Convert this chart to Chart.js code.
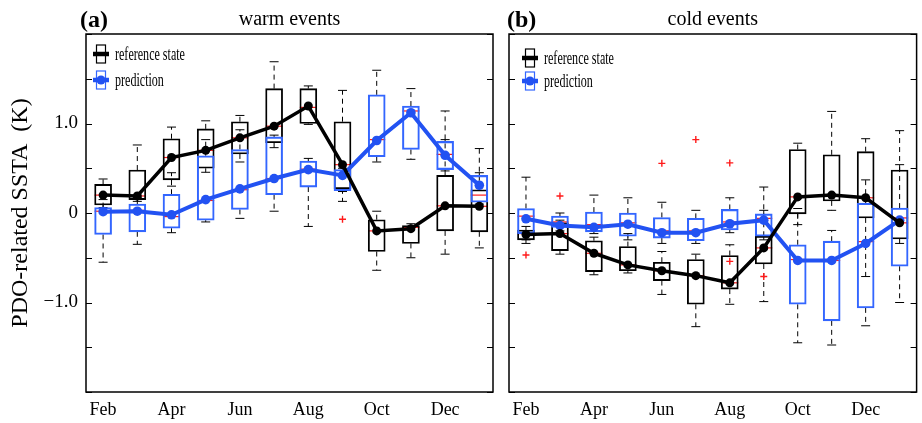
<!DOCTYPE html>
<html>
<head>
<meta charset="utf-8">
<script src="https://cdn.jsdelivr.net/npm/chart.js@4.4.1/dist/chart.umd.min.js"></script>
<style>
  html, body { margin: 0; padding: 0; background: #fff; }
  #wrap { position: relative; width: 922px; height: 423px; overflow: hidden; }
  .panel { position: absolute; top: 0; height: 423px; }
  #panelA { left: 0; width: 500px; }
  #panelB { left: 500px; width: 422px; }
</style>
</head>
<body>
<div id="wrap">
  <div class="panel" id="panelA"><canvas id="chartA"></canvas></div>
  <div class="panel" id="panelB"><canvas id="chartB"></canvas></div>
</div>
<script>
// Months Feb..Jan, only every second one gets a label on the x axis.
const MONTHS = ["Feb", "Mar", "Apr", "May", "Jun", "Jul", "Aug", "Sep", "Oct", "Nov", "Dec", "Jan"];
const MONTH_TICKS = ["Feb", "", "Apr", "", "Jun", "", "Aug", "", "Oct", "", "Dec", ""];
const Y_TICKS = [-2, -1.5, -1, -0.5, 0, 0.5, 1, 1.5, 2];
const Y_TICK_VALUES = [1, 0, -1];
const Y_TICK_TEXT = ["1.0", "0", "\u22121.0"];

// (a) warm events — reference state boxes
const WARM_REF_LO = [0.06, 0.13, 0.30, 0.455, 0.57, 0.73, 0.99, 0.13, -0.64, -0.50, -0.46, -0.39];
const WARM_REF_Q1 = [0.09, 0.15, 0.37, 0.50, 0.66, 0.785, 1.00, 0.27, -0.43, -0.34, -0.20, -0.21];
const WARM_REF_MED = [0.20, 0.19, 0.62, 0.70, 0.84, 0.97, 1.18, 0.54, -0.20, -0.16, 0.08, 0.075];
const WARM_REF_Q3 = [0.32, 0.48, 0.83, 0.94, 1.02, 1.39, 1.39, 1.02, -0.075, -0.14, 0.42, 0.26];
const WARM_REF_HI = [0.38, 0.76, 0.96, 1.03, 1.09, 1.69, 1.42, 1.37, 0.02, -0.12, 1.14, 0.72];
const WARM_REF_MEAN = [0.20, 0.19, 0.62, 0.70, 0.84, 0.97, 1.195, 0.54, -0.20, -0.175, 0.08, 0.075];

// (a) warm events — prediction boxes
const WARM_PRED_LO = [-0.55, -0.35, -0.22, -0.10, -0.06, 0.02, -0.15, 0.24, 0.57, 0.60, 0.47, 0.10];
const WARM_PRED_Q1 = [-0.24, -0.21, -0.17, -0.08, 0.04, 0.205, 0.29, 0.25, 0.63, 0.71, 0.485, 0.12];
const WARM_PRED_MED = [0.02, 0.03, -0.04, 0.14, 0.26, 0.385, 0.49, 0.43, 0.82, 1.14, 0.655, 0.20];
const WARM_PRED_Q3 = [0.06, 0.10, 0.21, 0.64, 0.71, 0.85, 0.58, 0.485, 1.32, 1.195, 0.80, 0.42];
const WARM_PRED_HI = [0.15, 0.17, 0.45, 0.82, 0.93, 0.87, 0.61, 0.50, 1.595, 1.39, 0.82, 0.45];
const WARM_PRED_MEAN = [0.015, 0.02, -0.02, 0.15, 0.27, 0.385, 0.485, 0.42, 0.81, 1.12, 0.645, 0.31];

const WARM_OUT_X = [7];
const WARM_OUT_Y = [-0.07];

// (b) cold events — reference state boxes
const COLD_REF_LO = [-0.34, -0.46, -0.69, -0.67, -0.91, -1.27, -1.02, -0.99, -0.13, 0.03, -0.71, -0.34];
const COLD_REF_Q1 = [-0.30, -0.42, -0.655, -0.645, -0.755, -1.02, -0.85, -0.57, -0.01, 0.135, -0.055, -0.29];
const COLD_REF_MED = [-0.23, -0.23, -0.45, -0.58, -0.645, -0.70, -0.78, -0.39, 0.18, 0.20, 0.17, -0.11];
const COLD_REF_Q3 = [-0.19, -0.11, -0.31, -0.375, -0.55, -0.52, -0.475, -0.26, 0.71, 0.65, 0.685, 0.48];
const COLD_REF_HI = [-0.15, -0.08, -0.27, -0.23, -0.43, -0.46, -0.355, 0.29, 0.78, 1.135, 0.83, 0.92];
const COLD_REF_MEAN = [-0.24, -0.23, -0.45, -0.58, -0.645, -0.70, -0.78, -0.39, 0.18, 0.20, 0.17, -0.11];

// (b) cold events — prediction boxes
const COLD_PRED_LO = [-0.30, -0.20, -0.23, -0.30, -0.34, -0.34, -0.22, -0.30, -1.45, -1.475, -1.26, -1.00];
const COLD_PRED_Q1 = [-0.23, -0.16, -0.21, -0.26, -0.28, -0.31, -0.19, -0.26, -1.02, -1.205, -1.06, -0.595];
const COLD_PRED_MED = [-0.035, -0.10, -0.13, -0.11, -0.20, -0.20, -0.10, -0.06, -0.52, -0.53, -0.32, -0.055];
const COLD_PRED_Q3 = [0.05, -0.035, 0.01, 0.00, -0.05, -0.06, 0.04, -0.01, -0.355, -0.315, 0.11, 0.055];
const COLD_PRED_HI = [0.40, 0.00, 0.20, 0.17, 0.12, 0.03, 0.17, 0.03, 0.05, -0.195, 0.37, 0.54];
const COLD_PRED_MEAN = [-0.065, -0.14, -0.16, -0.125, -0.22, -0.22, -0.12, -0.08, -0.53, -0.53, -0.34, -0.08];

const COLD_OUT_X = [0, 1, 4, 5, 6, 6, 7];
const COLD_OUT_Y = [-0.47, 0.19, 0.555, 0.82, 0.56, -0.54, -0.71];

const SERIF = "'Liberation Serif', 'Times New Roman', serif";
const BLACK = "#000000";
const BLUE_LINE = "#2252f2";
const BLUE_BOX = "#3366ff";
const RED = "#ff1a1a";

// ─── whiskers + medians, drawn under the boxes ───────────────────────────────
const boxWhiskers = {
  id: "boxWhiskers",
  beforeDatasetsDraw(chart, args, opts) {
    const { ctx, scales: { x, y } } = chart;
    const seg = (x1, y1, x2, y2) => { ctx.beginPath(); ctx.moveTo(x1, y1); ctx.lineTo(x2, y2); ctx.stroke(); };
    ctx.save();
    opts.series.forEach((s) => {
      s.med.forEach((med, i) => {
        const px = x.getPixelForValue(i);
        const pLo = y.getPixelForValue(s.lo[i]);
        const pQ1 = y.getPixelForValue(s.q1[i]);
        const pQ3 = y.getPixelForValue(s.q3[i]);
        const pHi = y.getPixelForValue(s.hi[i]);
        ctx.strokeStyle = BLACK;
        ctx.lineWidth = 1;
        ctx.setLineDash([5, 4]);
        if (pHi < pQ3) seg(px, pQ3, px, pHi);
        if (pLo > pQ1) seg(px, pQ1, px, pLo);
        ctx.setLineDash([]);
        seg(px - 4.5, pHi, px + 4.5, pHi);
        seg(px - 4.5, pLo, px + 4.5, pLo);
        ctx.strokeStyle = RED;
        ctx.lineWidth = 1.2;
        const pm = y.getPixelForValue(med);
        seg(px - 8.5, pm, px + 8.5, pm);
      });
    });
    ctx.restore();
  },
};

// ─── frame, inward ticks, panel titles, legend ──────────────────────────────
const panelDecor = {
  id: "panelDecor",
  afterDraw(chart, args, opts) {
    const { ctx, chartArea: a, scales: { y } } = chart;
    const seg = (x1, y1, x2, y2) => { ctx.beginPath(); ctx.moveTo(x1, y1); ctx.lineTo(x2, y2); ctx.stroke(); };
    ctx.save();
    ctx.strokeStyle = BLACK;
    ctx.lineWidth = 1.5;
    ctx.strokeRect(a.left, a.top, a.right - a.left, a.bottom - a.top);
    ctx.lineWidth = 1;
    Y_TICKS.forEach((v) => {
      const p = Math.round(y.getPixelForValue(v)) + 0.5;
      seg(a.left, p, a.left + 6, p);
      seg(a.right - 6, p, a.right, p);
    });

    // titles
    ctx.fillStyle = BLACK;
    ctx.textBaseline = "alphabetic";
    ctx.textAlign = "left";
    ctx.font = `bold 24px ${SERIF}`;
    ctx.fillText(opts.letter, a.left + opts.letterDx, 27);
    ctx.textAlign = "center";
    ctx.font = `20px ${SERIF}`;
    ctx.fillText(opts.title, (a.left + a.right) / 2, 25);

    // legend (the source renders it in a narrow face, so squeeze it)
    const items = [
      { label: "reference state", color: BLACK, dot: false, y: opts.legendY[0] },
      { label: "prediction", color: BLUE_LINE, dot: true, y: opts.legendY[1] },
    ];
    items.forEach((it) => {
      const x0 = a.left + opts.legendDx;
      ctx.strokeStyle = it.color === BLACK ? BLACK : BLUE_BOX;
      ctx.lineWidth = 1.2;
      ctx.strokeRect(x0 + 3.5, it.y - 9, 9, 18);
      ctx.strokeStyle = it.color;
      ctx.lineWidth = 4.5;
      seg(x0, it.y, x0 + 16, it.y);
      if (it.dot) {
        ctx.fillStyle = it.color;
        ctx.beginPath();
        ctx.arc(x0 + 8, it.y, 4.5, 0, Math.PI * 2);
        ctx.fill();
      }
      ctx.save();
      ctx.translate(x0 + 22, it.y + 1);
      ctx.scale(0.67, 1);
      ctx.fillStyle = BLACK;
      ctx.textAlign = "left";
      ctx.textBaseline = "middle";
      ctx.font = `18px ${SERIF}`;
      ctx.fillText(it.label, 0, 0);
      ctx.restore();
    });
    ctx.restore();
  },
};

function boxData(q1, q3) {
  return MONTHS.map((m, i) => ({ x: i, y: [q1[i], q3[i]] }));
}

function pointData(vals) {
  return MONTHS.map((m, i) => ({ x: i, y: vals[i] }));
}

function makeChart(canvasId, p) {
  return new Chart(document.getElementById(canvasId), {
    type: "bar",
    data: {
      datasets: [
        {
          type: "line",
          label: "reference state",
          data: pointData(p.ref.mean),
          borderColor: BLACK,
          backgroundColor: BLACK,
          borderWidth: 3.5,
          pointRadius: 4.5,
          pointBorderWidth: 0,
          tension: 0,
          order: 0,
        },
        {
          type: "line",
          label: "prediction",
          data: pointData(p.pred.mean),
          borderColor: BLUE_LINE,
          backgroundColor: BLUE_LINE,
          borderWidth: 4,
          pointRadius: 4.8,
          pointBorderWidth: 0,
          tension: 0,
          order: 1,
        },
        {
          type: "scatter",
          label: "outliers",
          data: p.outX.map((x, i) => ({ x, y: p.outY[i] })),
          pointStyle: "cross",
          pointRadius: 3.5,
          borderColor: RED,
          borderWidth: 1.4,
          order: 2,
        },
        {
          label: "prediction boxes",
          data: boxData(p.pred.q1, p.pred.q3),
          backgroundColor: "rgba(0,0,0,0)",
          borderColor: BLUE_BOX,
          borderWidth: 1.4,
          borderSkipped: false,
          barThickness: 17,
          grouped: false,
          order: 3,
        },
        {
          label: "reference boxes",
          data: boxData(p.ref.q1, p.ref.q3),
          backgroundColor: "rgba(0,0,0,0)",
          borderColor: BLACK,
          borderWidth: 1.2,
          borderSkipped: false,
          barThickness: 17,
          grouped: false,
          order: 4,
        },
      ],
    },
    options: {
      responsive: true,
      maintainAspectRatio: false,
      animation: false,
      layout: { padding: p.padding },
      scales: {
        x: {
          type: "linear",
          offset: false,
          min: -0.5,
          max: p.xMax,
          grid: { display: false, drawTicks: false },
          border: { display: false },
          afterBuildTicks: (s) => { s.ticks = MONTHS.map((m, i) => ({ value: i })); },
          ticks: {
            autoSkip: false,
            maxRotation: 0,
            padding: 7,
            color: BLACK,
            font: { family: SERIF, size: 18 },
            callback: (v) => MONTH_TICKS[v] || "",
          },
          afterFit: (s) => { s.height = 31; },
        },
        y: {
          display: p.showY,
          min: -2,
          max: 2,
          grid: { display: false, drawTicks: false },
          border: { display: false },
          afterBuildTicks: (s) => { s.ticks = Y_TICKS.map((v) => ({ value: v })); },
          ticks: {
            autoSkip: false,
            padding: 8,
            color: BLACK,
            font: { family: SERIF, size: 19 },
            callback: (v) => {
              const k = Y_TICK_VALUES.indexOf(v);
              return k >= 0 ? Y_TICK_TEXT[k] : "";
            },
          },
          title: {
            display: p.showY,
            text: "PDO-related SSTA  (K)",
            color: BLACK,
            font: { family: SERIF, size: 24 },
            padding: { top: 6, bottom: 0 },
          },
          afterFit: (s) => { s.width = p.showY ? 86 : 0; },
        },
      },
      plugins: {
        legend: { display: false },
        tooltip: { enabled: false },
        boxWhiskers: {
          series: [
            { lo: p.ref.lo, q1: p.ref.q1, med: p.ref.med, q3: p.ref.q3, hi: p.ref.hi },
            { lo: p.pred.lo, q1: p.pred.q1, med: p.pred.med, q3: p.pred.q3, hi: p.pred.hi },
          ],
        },
        panelDecor: p.decor,
      },
    },
    plugins: [boxWhiskers, panelDecor],
  });
}

makeChart("chartA", {
  ref: { lo: WARM_REF_LO, q1: WARM_REF_Q1, med: WARM_REF_MED, q3: WARM_REF_Q3, hi: WARM_REF_HI, mean: WARM_REF_MEAN },
  pred: { lo: WARM_PRED_LO, q1: WARM_PRED_Q1, med: WARM_PRED_MED, q3: WARM_PRED_Q3, hi: WARM_PRED_HI, mean: WARM_PRED_MEAN },
  outX: WARM_OUT_X,
  outY: WARM_OUT_Y,
  xMax: 11.4,
  showY: true,
  padding: { left: 0, right: 7, top: 34, bottom: 0 },
  decor: { letter: "(a)", title: "warm events", letterDx: -6, legendDx: 7, legendY: [54, 80] },
});

makeChart("chartB", {
  ref: { lo: COLD_REF_LO, q1: COLD_REF_Q1, med: COLD_REF_MED, q3: COLD_REF_Q3, hi: COLD_REF_HI, mean: COLD_REF_MEAN },
  pred: { lo: COLD_PRED_LO, q1: COLD_PRED_Q1, med: COLD_PRED_MED, q3: COLD_PRED_Q3, hi: COLD_PRED_HI, mean: COLD_PRED_MEAN },
  outX: COLD_OUT_X,
  outY: COLD_OUT_Y,
  xMax: 11.5,
  showY: false,
  padding: { left: 9, right: 3, top: 34, bottom: 0 },
  decor: { letter: "(b)", title: "cold events", letterDx: -2, legendDx: 13, legendY: [58, 81] },
});
</script>
</body>
</html>
